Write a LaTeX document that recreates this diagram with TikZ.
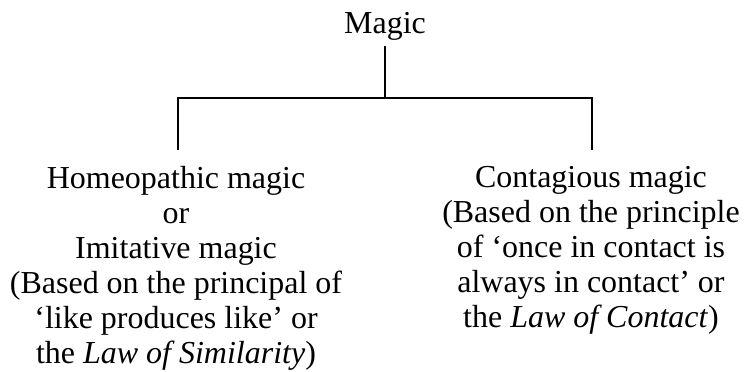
\documentclass[tikz,border=0pt]{standalone}
\usepackage{fontspec}
\setmainfont{Liberation Serif}
\usetikzlibrary{positioning,calc}

\begin{document}
\begin{tikzpicture}[x=0.02cm, y=-0.02cm,
  root/.style={font=\fontsize{18.2}{19.9}\selectfont, inner sep=0.12cm, anchor=base},
  kind/.style={font=\fontsize{18.2}{19.9}\selectfont, align=center, anchor=north,
    inner xsep=0pt, inner ysep=0.32cm},
  link/.style={line width=0.04cm, line join=miter}
]
\useasboundingbox (0,0) rectangle (744,372);

% Root
\node[root] (magic) at (385,33) {Magic};

% Branch points
\coordinate (lft) at (178,98);
\coordinate (rgt) at (592,98);

% Kinds of magic
\node[kind] (homeo) at (176,150) {Homeopathic magic\\or\\Imitative magic\\(Based on the principal of\\‘like produces like’ or\\the \textit{Law of Similarity})};
\node[kind] (contag) at (591,150) {Contagious magic\\(Based on the principle\\of ‘once in contact is\\always in contact’ or\\the \textit{Law of Contact})};

% Tree lines
\draw[link] (magic.south) -- (magic.south |- lft);
\draw[link] (lft |- homeo.north) -- (lft) -- (rgt) -- (rgt |- contag.north);

\end{tikzpicture}
\end{document}
